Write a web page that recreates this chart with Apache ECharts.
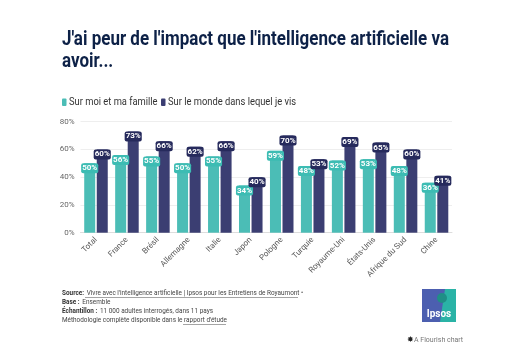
<!DOCTYPE html>
<html><head><meta charset="utf-8">
<script src="https://cdn.jsdelivr.net/npm/echarts@6/dist/echarts.min.js"></script>
<style>html,body{margin:0;padding:0;background:#fff}#c{width:527px;height:358px}</style>
</head><body><div id="c"></div>
<script>
const categories = ['Total','France','Brésil','Allemagne','Italie','Japon','Pologne','Turquie','Royaume-Uni','États-Unis','Afrique du Sud','Chine'];
const seriesNames = ['Sur moi et ma famille','Sur le monde dans lequel je vis'];
const moiFamille = [50,56,55,50,55,34,59,48,52,53,48,36];
const monde = [60,73,66,62,66,40,70,53,69,65,60,41];
const yTicks = [0,20,40,60,80];
const titleLines = ["J'ai peur de l'impact que l'intelligence artificielle va", "avoir..."];

const teal = '#4bbdb6', navy = '#3b3e72';
const tealBadge = '#3cbcb3', navyBadge = '#262a5c';
const SX = 0.85;

const chart = echarts.init(document.getElementById('c'), null, {renderer:'canvas'});
const badge = (bg) => ({
  show:true, position:'insideTop', distance:0,
  formatter: p => p.value + '%',
  color:'#fff', fontFamily:'Roboto', fontWeight:'bold', fontSize:8,
  backgroundColor:bg, padding:[1,1,1,1], borderRadius:2
});
const scaledText = (x, y, style, sx) => ({type:'group', x:x, y:y, scaleX:sx || SX, children:[{type:'text', x:0, y:0, style:style}]});
chart.setOption({
  animation:false,
  legend:{show:false, data:seriesNames},
  grid:{left:80.5, right:75, top:121.7, bottom:125.3, containLabel:false},
  xAxis:{type:'category', data:categories,
    axisLine:{lineStyle:{color:'#ddd'}}, axisTick:{show:false},
    axisLabel:{rotate:45, fontFamily:'Roboto', fontSize:8, color:'#555', interval:0, margin:6}},
  yAxis:{type:'value', min:0, max:80, interval:20,
    axisLine:{show:false}, axisTick:{show:false},
    splitLine:{lineStyle:{color:'#eee'}},
    axisLabel:{formatter: v => yTicks.includes(v) ? v + '%' : '', fontFamily:'Roboto', fontSize:8, color:'#666', margin:6}},
  series:[
    {name:seriesNames[0], type:'bar', data:moiFamille, barWidth:11, barGap:'14%', itemStyle:{color:teal}, label:badge(tealBadge)},
    {name:seriesNames[1], type:'bar', data:monde, barWidth:11, itemStyle:{color:navy}, label:badge(navyBadge)}
  ],
  graphic:[
    scaledText(62, 39.5, {text:titleLines[0], fill:'#0d2147', fontFamily:'Roboto', fontWeight:'bold', fontSize:20, verticalAlign:'middle'}),
    scaledText(62, 61.5, {text:titleLines[1], fill:'#0d2147', fontFamily:'Roboto', fontWeight:'bold', fontSize:20, verticalAlign:'middle'}),
    {type:'rect', shape:{x:62, y:98.5, width:4.5, height:7.5, r:1}, style:{fill:teal}},
    scaledText(69, 102.5, {text:seriesNames[0], fill:'#333', fontFamily:'Roboto', fontSize:11, verticalAlign:'middle'}),
    {type:'rect', shape:{x:161, y:98.5, width:4.5, height:7.5, r:1}, style:{fill:navy}},
    scaledText(168, 102.5, {text:seriesNames[1], fill:'#333', fontFamily:'Roboto', fontSize:11, verticalAlign:'middle'}),
    scaledText(62, 288.5, {rich:{b:{fontWeight:'bold', fontFamily:'Roboto', fontSize:8, fill:'#333'}, n:{fontFamily:'Roboto', fontSize:8, fill:'#444'}},
      text:'{b|Source:} {n|Vivre avec l\'intelligence artificielle | Ipsos pour les Entretiens de Royaumont •}\n{b|Base :} {n|Ensemble}\n{b|Échantillon :} {n|11 000 adultes interrogés, dans 11 pays}\n{n|Méthodologie complète disponible dans le rapport d\'étude}', lineHeight:9}, 0.8),
    {type:'line', shape:{x1:85, y1:297.5, x2:298, y2:297.5}, style:{stroke:'#666', lineWidth:0.6}},
    {type:'line', shape:{x1:183, y1:324.5, x2:226, y2:324.5}, style:{stroke:'#666', lineWidth:0.6}},
    {type:'rect', shape:{x:422, y:289, width:34, height:33}, style:{fill:'#2ab3a6'}},
    {type:'polygon', shape:{points:[[422,289],[445,289],[440,322],[422,322]]}, style:{fill:'#4c5fb0'}},
    {type:'text', x:439, y:314, style:{text:'Ipsos', fill:'#fff', fontFamily:'Roboto', fontWeight:'bold', fontSize:10, align:'center', verticalAlign:'middle'}},
    {type:'circle', shape:{cx:442, cy:298, r:5}, style:{fill:'#1f8f86'}},
    {type:'text', x:406.5, y:340, style:{text:'✸', fill:'#222', fontSize:8, verticalAlign:'middle'}},
    {type:'text', x:414, y:340, style:{text:'A Flourish chart', fill:'#777', fontFamily:'Roboto', fontSize:7, verticalAlign:'middle'}}
  ]
});
</script></body></html>
